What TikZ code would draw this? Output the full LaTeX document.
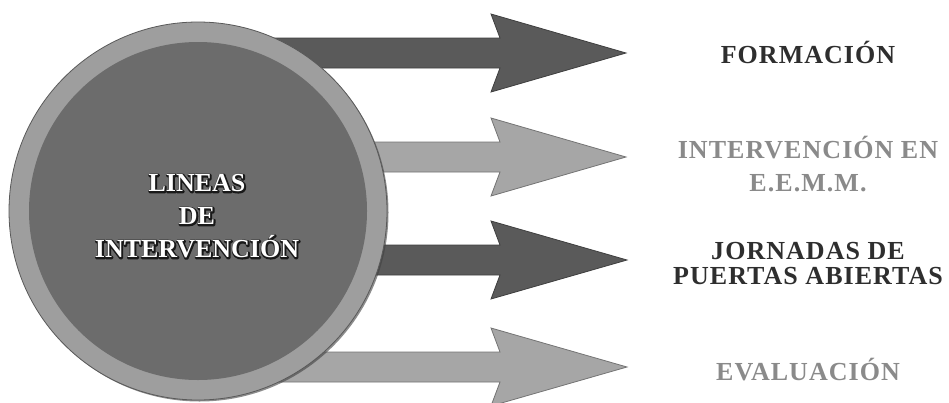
\documentclass[tikz,border=0pt]{standalone}
\usepackage{fontspec}
\setmainfont{Liberation Serif}
\newfontfamily\labfont[LetterSpace=4]{Liberation Serif}
\definecolor{ringgray}{HTML}{9E9E9E}
\definecolor{coregray}{HTML}{6C6C6C}
\definecolor{darkarrow}{HTML}{5A5A5A}
\definecolor{lightarrow}{HTML}{A6A6A6}
\definecolor{darktext}{HTML}{2E2E2E}
\definecolor{lighttext}{HTML}{8A8A8A}
\newcommand{\strokeon}{\special{pdf:literal direct 2 Tr 2.6 w 1 j 0.1 G 0.1 g}}
\newcommand{\strokeoff}{\special{pdf:literal direct 0 Tr}}
\tikzset{
  arrowshape/.style={draw=#1!70!black, line width=0.8pt, line join=miter},
  darkarr/.style={arrowshape=darkarrow, fill=darkarrow},
  lightarr/.style={arrowshape=lightarrow, fill=lightarrow},
  lab/.style={font=\labfont\bfseries\fontsize{26}{28}\selectfont, align=center, inner sep=0pt},
  darklab/.style={lab, text=darktext},
  lightlab/.style={lab, text=lighttext},
  ctext/.style={font=\bfseries\fontsize{26}{33}\selectfont, align=center, inner sep=0pt}
}
\begin{document}
\begin{tikzpicture}[x=1pt,y=-1pt]
\useasboundingbox (0,0) rectangle (949,402);
\begin{scope}
\clip (0,0) rectangle (949,402);
% arrows (behind the circle)
\coordinate (c) at (198,211);
\draw[darkarr]  (200,38)  -- (500,38)  -- (491,14)  -- (626,53)  -- (491,92)  -- (500,68)  -- (200,68)  -- cycle;
\draw[lightarr] (200,142) -- (500,142) -- (491,118) -- (626,157) -- (491,196) -- (500,172) -- (200,172) -- cycle;
\draw[darkarr]  (200,245) -- (500,245) -- (491,221) -- (627,260) -- (491,299) -- (500,275) -- (200,275) -- cycle;
\draw[lightarr] (200,352) -- (500,352) -- (491,328) -- (627,367) -- (491,406) -- (500,382) -- (200,382) -- cycle;
% circle
\fill[black!75, opacity=0.6] (199.5,212.5) circle[radius=189];
\draw[fill=ringgray, draw=black!65, line width=0.8pt] (c) circle[radius=189];
\fill[coregray] (c) circle[radius=169];
\end{scope}
% centre text: dark outline behind, white text on top
\node[ctext, text=black] (centreshadow) at (197.6,216.6) {\strokeon LINEAS\\\strokeon DE\\\strokeon INTERVENCIÓN\strokeoff};
\node[ctext, text=white] (centre) at (197,216) {LINEAS\\DE\\INTERVENCIÓN};
% labels
\node[darklab]  (formacion) at (808,52)  {FORMACIÓN};
\node[lightlab] (eemm)      at (808,164) {INTERVENCIÓN EN\\[5pt]E.E.M.M.};
\node[darklab]  (jornadas)  at (808,264) {JORNADAS DE\\[-3pt]PUERTAS ABIERTAS};
\node[lightlab] (evaluacion) at (808,370) {EVALUACIÓN};
\end{tikzpicture}
\end{document}
